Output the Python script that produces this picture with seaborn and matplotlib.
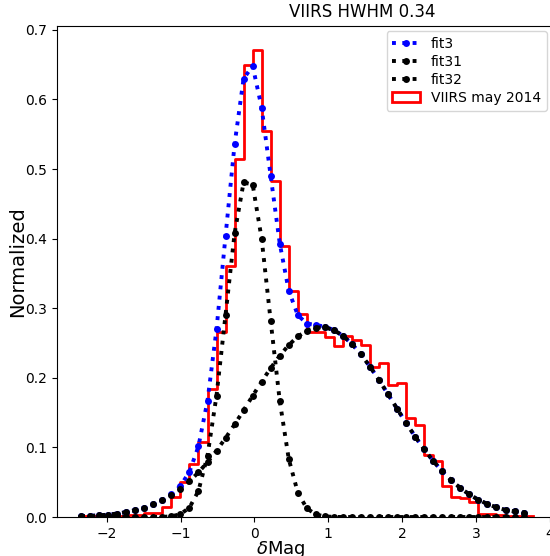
import numpy as np
import matplotlib
matplotlib.use('Agg')
import matplotlib.pyplot as plt
from matplotlib.patches import Patch
import seaborn as sns

# histogram bin edges (delta mag) and normalized counts
bin_edges = [-2.350, -2.228, -2.105, -1.983, -1.860, -1.738, -1.616, -1.493, -1.371, -1.248,
             -1.126, -1.004, -0.881, -0.759, -0.636, -0.514, -0.392, -0.269, -0.147, -0.024,
             0.098, 0.220, 0.343, 0.465, 0.588, 0.710, 0.832, 0.955, 1.077, 1.200,
             1.322, 1.444, 1.567, 1.689, 1.812, 1.934, 2.056, 2.179, 2.301, 2.424,
             2.546, 2.668, 2.791, 2.913, 3.036, 3.158, 3.280, 3.403, 3.525, 3.648,
             3.770]
viirs_hist = [0.002, 0.002, 0.002, 0.003, 0.002, 0.003, 0.003, 0.006, 0.006, 0.014,
              0.029, 0.050, 0.076, 0.108, 0.184, 0.266, 0.360, 0.514, 0.650, 0.671,
              0.555, 0.483, 0.390, 0.325, 0.292, 0.266, 0.266, 0.259, 0.246, 0.260,
              0.254, 0.247, 0.216, 0.222, 0.189, 0.192, 0.143, 0.132, 0.089, 0.080,
              0.044, 0.029, 0.027, 0.022, 0.005, 0.004, 0.003, 0.002, 0.002, 0.002]

# fit curves, sampled at the left bin edges
fit_x = bin_edges[:-1]
fit3 = [0.0011, 0.0016, 0.0024, 0.0034, 0.0050, 0.0070, 0.0098, 0.0134, 0.0182, 0.0243,
        0.0325, 0.0446, 0.0648, 0.1015, 0.1672, 0.2697, 0.4036, 0.5357, 0.6300, 0.6480,
        0.5880, 0.4900, 0.3930, 0.3250, 0.2900, 0.2780, 0.2760, 0.2735, 0.2687, 0.2604,
        0.2486, 0.2336, 0.2160, 0.1967, 0.1762, 0.1555, 0.1351, 0.1154, 0.0972, 0.0804,
        0.0656, 0.0527, 0.0416, 0.0324, 0.0247, 0.0187, 0.0138, 0.0101, 0.0080, 0.0065]
fit31 = [0.0, 0.0, 0.0, 0.0, 0.0, 0.0, 0.0, 0.0, 0.0001, 0.0002,
         0.0010, 0.0041, 0.0134, 0.0374, 0.0883, 0.1744, 0.2902, 0.4077, 0.4807, 0.4778,
         0.3995, 0.2816, 0.1667, 0.0834, 0.0349, 0.0124, 0.0037, 0.0009, 0.0002, 0.0,
         0.0, 0.0, 0.0, 0.0, 0.0, 0.0, 0.0, 0.0, 0.0, 0.0,
         0.0, 0.0, 0.0, 0.0, 0.0, 0.0, 0.0, 0.0, 0.0, 0.0]
fit32 = [0.0011, 0.0016, 0.0024, 0.0034, 0.0050, 0.0070, 0.0098, 0.0134, 0.0181, 0.0241,
         0.0315, 0.0405, 0.0514, 0.0641, 0.0789, 0.0953, 0.1134, 0.1330, 0.1533, 0.1742,
         0.1946, 0.2140, 0.2319, 0.2471, 0.2594, 0.2679, 0.2723, 0.2726, 0.2685, 0.2604,
         0.2486, 0.2336, 0.2160, 0.1967, 0.1762, 0.1555, 0.1351, 0.1154, 0.0972, 0.0804,
         0.0656, 0.0527, 0.0416, 0.0324, 0.0247, 0.0187, 0.0138, 0.0101, 0.0080, 0.0065]

bin_centers = [(a + b) / 2 for a, b in zip(bin_edges[:-1], bin_edges[1:])]

fig = plt.figure(figsize=(5.5, 5.56), dpi=100)
# the original is a crop of a wider figure: the axes run past the right edge
ax = fig.add_axes([0.1036, 0.0701, 1.109, 0.8837])

# histogram as a step outline
sns.histplot(x=bin_centers, weights=viirs_hist, bins=bin_edges, element='step',
             fill=False, color='red', linewidth=2, ax=ax)

line_kws = dict(linestyle=':', marker='o', linewidth=2.8, markersize=5, markeredgewidth=0)
sns.lineplot(x=fit_x, y=fit3, color='blue', markeredgecolor='blue', ax=ax, **line_kws)
sns.lineplot(x=fit_x, y=fit31, color='black', markeredgecolor='black', ax=ax, **line_kws)
sns.lineplot(x=fit_x, y=fit32, color='black', markeredgecolor='black', ax=ax, **line_kws)

ax.set_title('VIIRS HWHM 0.34', fontsize=12)
ax.set_xlabel(r'$\delta$Mag', fontsize=13, labelpad=-1, x=0.367)
ax.set_ylabel('Normalized', fontsize=14, y=0.52, labelpad=-1.5)
ax.tick_params(labelsize=10)
ax.set_yticks(np.arange(0, 0.71, 0.1))
ax.set_ylim(0, 0.706)
ax.set_xlim(-2.676, 5.59)

lines = ax.get_lines()[-3:]
handles = list(lines) + [Patch(facecolor='none', edgecolor='red', linewidth=2)]
ax.legend(handles, ['fit3', 'fit31', 'fit32', 'VIIRS may 2014'], loc='upper right',
          bbox_to_anchor=(0.994, 0.944), bbox_transform=fig.transFigure, borderaxespad=0,
          fontsize=10, labelspacing=0.3)

fig.savefig('out.png', dpi=100)
